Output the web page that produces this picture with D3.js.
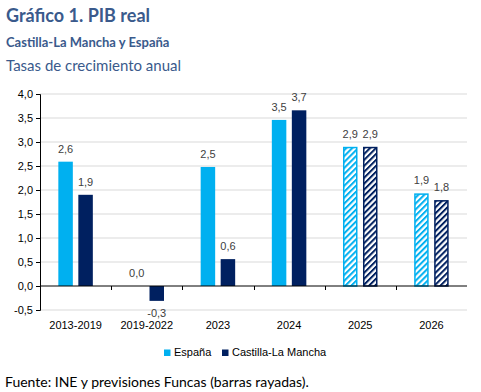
<!DOCTYPE html>
<html>
<head>
<meta charset="utf-8">
<script src="https://cdn.jsdelivr.net/npm/d3@7"></script>
<style>
  body { margin: 0; background: #fff; }
  svg text { font-family: "Liberation Sans", Arial, sans-serif; }
  svg text.calibri { font-family: Lato, "Open Sans", sans-serif; }
</style>
</head>
<body>
<script>
const categories = ["2013-2019", "2019-2022", "2023", "2024", "2025", "2026"];
const espana = [2.59, 0.0, 2.48, 3.46, 2.9, 1.93];
const clm = [1.9, -0.31, 0.56, 3.66, 2.9, 1.79];
const forecast = [false, false, false, false, true, true];
const yTicks = [-0.5, 0, 0.5, 1, 1.5, 2, 2.5, 3, 3.5, 4];

const width = 481;
const height = 392;
const plot = { left: 40, right: 467, top: 94, bottom: 310 };
const colors = { esp: "#00b0f0", clm: "#002060" };
const titleColor = "#3a5a8c";

const svg = d3.select("body").append("svg")
  .attr("width", width)
  .attr("height", height);

// stripes for forecast bars
const defs = svg.append("defs");
Object.entries(colors).forEach(([key, color]) => {
  const p = defs.append("pattern")
    .attr("id", `hatch-${key}`)
    .attr("patternUnits", "userSpaceOnUse")
    .attr("width", 4.2)
    .attr("height", 4.2)
    .attr("patternTransform", "rotate(45)");
  p.append("rect").attr("width", 4.2).attr("height", 4.2).attr("fill", "#fff");
  p.append("rect").attr("width", 2).attr("height", 4.2).attr("fill", color);
});

const x = d3.scaleBand()
  .domain(categories)
  .range([plot.left, plot.right]);

const y = d3.scaleLinear()
  .domain([-0.5, 4])
  .range([plot.bottom, plot.top]);

const comma = (v) => d3.format(".1f")(v).replace(".", ",").replace("−", "-");

// gridlines
svg.append("g")
  .selectAll("line")
  .data(yTicks.filter((t) => t !== 0))
  .enter().append("line")
  .attr("x1", plot.left)
  .attr("x2", plot.right)
  .attr("y1", (d) => y(d))
  .attr("y2", (d) => y(d))
  .attr("stroke", "#d9d9d9")
  .attr("stroke-width", 1);

// y axis
const yAxis = svg.append("g")
  .attr("transform", `translate(${plot.left},0)`)
  .call(d3.axisLeft(y).tickValues(yTicks).tickSize(4).tickPadding(3).tickFormat(comma));
yAxis.select(".domain").attr("stroke", "#000");
yAxis.selectAll(".tick line").attr("stroke", "#000");
yAxis.selectAll("text").attr("font-size", 11).attr("fill", "#000");

// bars
const bandW = x.bandwidth();
const barW = 14.5;
const gap = 5.5;
const series = [
  { key: "esp", values: espana, offset: -gap / 2 - barW },
  { key: "clm", values: clm, offset: gap / 2 }
];

series.forEach((s) => {
  const g = svg.append("g");
  const data = categories.map((c, i) => ({ cat: c, value: s.values[i], hatched: forecast[i] }));

  g.selectAll("rect")
    .data(data)
    .enter().append("rect")
    .attr("x", (d) => x(d.cat) + bandW / 2 + s.offset + (d.hatched ? 0.75 : 0))
    .attr("y", (d) => y(Math.max(0, d.value)) + (d.hatched ? 0.75 : 0))
    .attr("width", (d) => barW - (d.hatched ? 1.5 : 0))
    .attr("height", (d) => Math.abs(y(d.value) - y(0)) - (d.hatched ? 0.75 : 0))
    .attr("fill", (d) => d.hatched ? `url(#hatch-${s.key})` : colors[s.key])
    .attr("stroke", (d) => d.hatched ? colors[s.key] : "none")
    .attr("stroke-width", 1.5);

  g.selectAll("text")
    .data(data)
    .enter().append("text")
    .attr("x", (d) => x(d.cat) + bandW / 2 + s.offset + barW / 2)
    .attr("y", (d) => d.value < 0 ? y(d.value) + 16 : y(d.value) - 9)
    .attr("text-anchor", "middle")
    .attr("font-size", 11)
    .attr("fill", "#404040")
    .text((d) => comma(d.value));
});

// x axis at zero
const xAxis = svg.append("g")
  .attr("transform", `translate(0,${y(0)})`);
xAxis.append("line")
  .attr("x1", plot.left)
  .attr("x2", plot.right)
  .attr("stroke", "#000");
xAxis.selectAll(".sep")
  .data(categories.slice(1))
  .enter().append("line")
  .attr("x1", (d) => Math.round(x(d)) + 0.5)
  .attr("x2", (d) => Math.round(x(d)) + 0.5)
  .attr("y2", 4)
  .attr("stroke", "#000");

svg.append("g")
  .selectAll("text")
  .data(categories)
  .enter().append("text")
  .attr("x", (d) => x(d) + bandW / 2)
  .attr("y", 329)
  .attr("text-anchor", "middle")
  .attr("font-size", 11)
  .attr("fill", "#000")
  .text((d) => d);

// legend
const legendItems = [
  { label: "España", color: colors.esp, x: 164 },
  { label: "Castilla-La Mancha", color: colors.clm, x: 222 }
];
const legend = svg.append("g");
legend.selectAll("rect")
  .data(legendItems)
  .enter().append("rect")
  .attr("x", (d) => d.x)
  .attr("y", 349.5)
  .attr("width", 6.5)
  .attr("height", 6.5)
  .attr("fill", (d) => d.color);
legend.selectAll("text")
  .data(legendItems)
  .enter().append("text")
  .attr("x", (d) => d.x + 10)
  .attr("y", 356)
  .attr("font-size", 11)
  .attr("fill", "#000")
  .text((d) => d.label);

// titles
svg.append("text")
  .attr("class", "calibri")
  .attr("x", 6).attr("y", 22)
  .attr("font-weight", "bold")
  .attr("font-size", 18)
  .attr("fill", titleColor)
  .text("Gráfico 1. PIB real");
svg.append("text")
  .attr("class", "calibri")
  .attr("x", 6).attr("y", 47)
  .attr("font-weight", "bold")
  .attr("font-size", 13)
  .attr("fill", titleColor)
  .text("Castilla-La Mancha y España");
svg.append("text")
  .attr("class", "calibri")
  .attr("x", 6).attr("y", 71)
  .attr("font-size", 15)
  .attr("fill", titleColor)
  .text("Tasas de crecimiento anual");

svg.append("text")
  .attr("class", "calibri")
  .attr("x", 5).attr("y", 387)
  .attr("font-size", 14)
  .attr("fill", "#000")
  .text("Fuente: INE y previsiones Funcas (barras rayadas).");
</script>
</body>
</html>
